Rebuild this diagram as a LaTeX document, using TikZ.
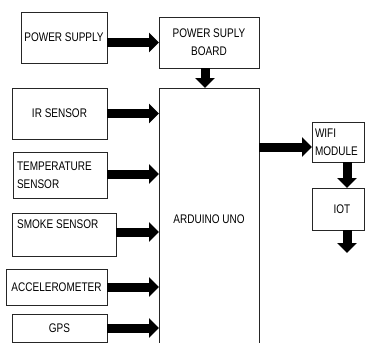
\documentclass[tikz,border=0pt]{standalone}
\usepackage{fontspec}
\setmainfont{Liberation Sans}[FakeStretch=0.8]
\usetikzlibrary{arrows.meta,calc}
\begin{document}
\begin{tikzpicture}[x=1pt,y=-1pt,
  font=\fontsize{12.5}{18}\selectfont,
  box/.style={draw=black!85, line width=0.8pt, inner sep=0pt, outer sep=0pt, fill=white},
  bigarrow/.style={line width=9pt, -{Triangle[width=19pt,length=10pt]}}]
\useasboundingbox (0,0) rectangle (365,343);
% boxes
\node[box, minimum width=86, minimum height=51, align=center] (ps) at (64,37.5) {POWER SUPPLY};
\node[box, minimum width=100, minimum height=51, align=center] (psb) at (209,42.5) {POWER SUPLY\\BOARD};
\node[box, minimum width=100, minimum height=262, align=center] (ard) at (209,219) {ARDUINO UNO};
\node[box, minimum width=95, minimum height=51, align=center] (ir) at (59.5,113.5) {IR SENSOR};
\node[box, text width=86pt, inner xsep=4pt, minimum height=46, align=left] (temp) at (60,175) {TEMPERATURE\\SENSOR};
\node[box, minimum width=104, minimum height=43] (smoke) at (64,234.5) {};
\node[anchor=north west, inner sep=0pt] (smoketxt) at ($(smoke.north west)+(5,7)$) {SMOKE SENSOR};
\node[box, minimum width=101, minimum height=36, align=center] (acc) at (56.5,287) {ACCELEROMETER};
\node[box, minimum width=95, minimum height=28, align=center] (gps) at (59.5,328) {GPS};
\node[box, text width=46pt, inner xsep=3pt, minimum height=40, align=left] (wifi) at (338,142) {WIFI\\MODULE};
\node[box, minimum width=52, minimum height=42] (iot) at (338,209) {};
\node[inner sep=0pt] (iottxt) at (342,209) {IOT};
\coordinate (out) at (347,253);
% arrows
\draw[bigarrow] (ps.east |- psb.west) -- (psb.west);
\draw[bigarrow] ([xshift=-4pt]psb.south) -- ([xshift=-4pt]psb.south |- ard.north);
\draw[bigarrow] (ir.east) -- (ir.east -| ard.west);
\draw[bigarrow] ([yshift=1pt]temp.east) -- ([yshift=1pt]temp.east -| ard.west);
\draw[bigarrow] ([yshift=2.5pt]smoke.east) -- ([yshift=2.5pt]smoke.east -| ard.west);
\draw[bigarrow] (acc.east) -- (acc.east -| ard.west);
\draw[bigarrow] (gps.east) -- (gps.east -| ard.west);
\draw[bigarrow] ([yshift=-5pt]wifi.west -| ard.east) -- ([yshift=-5pt]wifi.west);
\draw[bigarrow] ([xshift=9pt]wifi.south) -- ([xshift=9pt]wifi.south |- iot.north);
\draw[bigarrow] (iot.south -| out) -- (out);
\end{tikzpicture}
\end{document}
